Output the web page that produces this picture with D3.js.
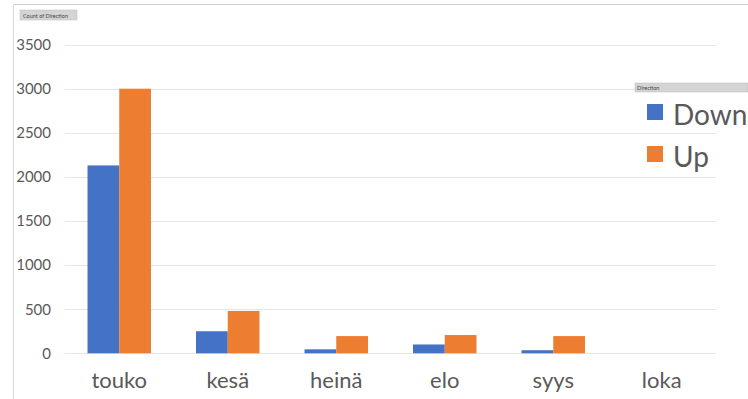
<!DOCTYPE html>
<html>
<head>
<meta charset="utf-8">
<script src="https://cdn.jsdelivr.net/npm/d3@7"></script>
<style>
  body { margin: 0; background: #fff; }
  svg { display: block; font-family: Lato, "Liberation Sans", sans-serif; }
</style>
</head>
<body>
<svg id="chart"></svg>
<script>
var months = ["touko", "kesä", "heinä", "elo", "syys", "loka"];
var seriesNames = ["Down", "Up"];
var downValues = [2130, 250, 45, 100, 35, 0];
var upValues = [3000, 480, 195, 207, 195, 0];
var yTicks = [0, 500, 1000, 1500, 2000, 2500, 3000, 3500];
var colors = ["#4472c4", "#ed7d31"];

function drawChart() {
    var svg = d3.select('#chart');
    var width = 748, height = 399;
    svg.attr("width", width).attr("height", height);

    var left = 65, right = 716, top = 44.6, bottom = 353.3;

    var xScale = d3.scaleBand().domain(months).range([left, right]);
    var xInner = d3.scaleBand().domain(seriesNames)
                   .range([0, xScale.bandwidth()]).paddingOuter(0.71).paddingInner(0);
    var yScale = d3.scaleLinear().domain([0, 3500]).range([bottom, top]);

    // frame
    svg.append("line").attr("x1", 13.5).attr("y1", 4.5).attr("x2", width).attr("y2", 4.5)
       .attr("stroke", "#cfcfcf").attr("stroke-width", 1);
    svg.append("line").attr("x1", 13.5).attr("y1", 4.5).attr("x2", 13.5).attr("y2", height)
       .attr("stroke", "#d9d9d9").attr("stroke-width", 1);

    // field button
    svg.append("rect").attr("x", 20).attr("y", 10).attr("width", 57).attr("height", 10)
       .attr("fill", "#d4d4d4").attr("stroke", "#bdbdbd").attr("stroke-width", 0.5);
    svg.append("text").attr("x", 23).attr("y", 17.5).text("Count of Direction")
       .attr("font-size", 5.5).attr("fill", "#444");

    // gridlines
    svg.append("g").selectAll("line").data(yTicks).enter().append("line")
       .attr("x1", left).attr("x2", right)
       .attr("y1", function(d) { return Math.round(yScale(d)) + 0.5; })
       .attr("y2", function(d) { return Math.round(yScale(d)) + 0.5; })
       .attr("stroke", "#e6e6e6").attr("stroke-width", 1.2);

    var yAxis = d3.axisLeft(yScale).tickValues(yTicks).tickFormat(d3.format("d"))
                  .tickSize(0).tickPadding(0);
    var gy = svg.append("g").attr("transform", "translate(51,0)").call(yAxis);
    gy.select(".domain").remove();
    gy.selectAll("text").attr("font-size", 15).attr("fill", "#595959")
      .attr("font-family", "Lato, sans-serif");

    var xAxis = d3.axisBottom(xScale).tickSize(0).tickPadding(0);
    var gx = svg.append("g").attr("transform", "translate(0,372)").call(xAxis);
    gx.select(".domain").remove();
    gx.selectAll("text").attr("font-size", 22).attr("fill", "#595959")
      .attr("font-family", "Lato, sans-serif");

    var rows = months.map(function(m, i) {
        return { month: m, vals: [downValues[i], upValues[i]] };
    });

    var groups = svg.append("g").selectAll("g").data(rows).enter().append("g")
       .attr("transform", function(d) { return "translate(" + xScale(d.month) + ",0)"; });

    groups.selectAll("rect").data(function(d) { return d.vals; }).enter().append("rect")
       .attr("x", function(d, i) { return xInner(seriesNames[i]); })
       .attr("width", xInner.bandwidth())
       .attr("y", function(d) { return yScale(d); })
       .attr("height", function(d) { return bottom - yScale(d); })
       .attr("fill", function(d, i) { return colors[i]; });

    // legend
    svg.append("rect").attr("x", 635).attr("y", 83).attr("width", 113).attr("height", 9)
       .attr("fill", "#d4d4d4").attr("stroke", "#bdbdbd").attr("stroke-width", 0.5);
    svg.append("text").attr("x", 637).attr("y", 90).text("Direction")
       .attr("font-size", 5.5).attr("fill", "#444");

    var legend = svg.append("g").selectAll("g").data(seriesNames).enter().append("g")
       .attr("transform", function(d, i) { return "translate(647," + (104 + i * 42) + ")"; });
    legend.append("rect").attr("width", 16).attr("height", 16)
       .attr("fill", function(d, i) { return colors[i]; });
    legend.append("text").attr("x", 26).attr("y", 21).text(function(d) { return d; })
       .attr("font-size", 28).attr("fill", "#595959");
}

drawChart();
</script>
</body>
</html>
